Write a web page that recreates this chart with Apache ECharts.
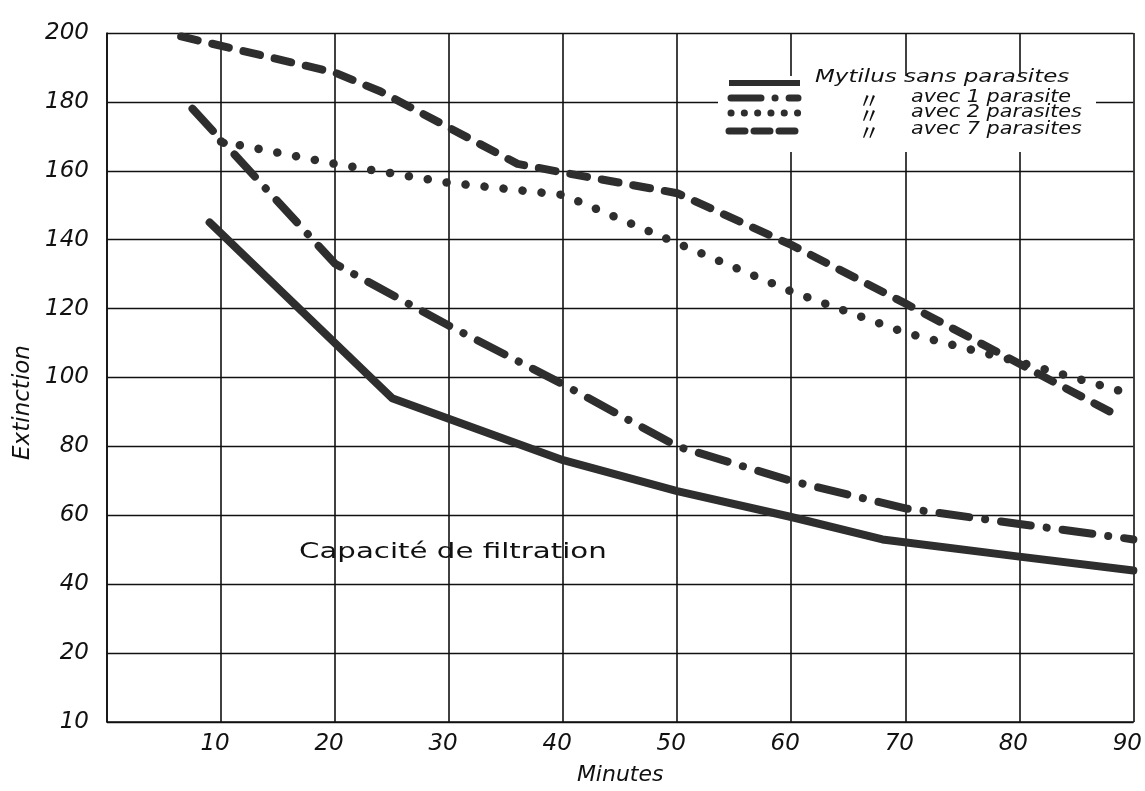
<!DOCTYPE html>
<html>
<head>
<meta charset="utf-8">
<script src="https://cdn.jsdelivr.net/npm/echarts@6/dist/echarts.min.js"></script>
<style>
html,body{margin:0;padding:0;background:#fff;}
#chart{width:1145px;height:791px;}
</style>
</head>
<body>
<div id="chart"></div>
<script>
// ---- data ----
const xTickLabels = ['', '10', '20', '30', '40', '50', '60', '70', '80', '90'];
const yTickLabels = ['10', '20', '40', '60', '80', '100', '120', '140', '160', '180', '200'];

const sansX = [9, 25, 40, 50, 60, 68, 80, 90];
const sansY = [145, 94, 76, 67, 59.5, 53, 48, 44];

const avec1X = [7.5, 20, 30, 40, 50, 60, 70, 80, 90];
const avec1Y = [178, 133, 115, 98, 80, 70, 62, 57.5, 53];

const avec2X = [10, 20, 30, 40, 50, 60, 70, 80, 90];
const avec2Y = [168.5, 162, 156.5, 153, 139, 125, 113, 104.5, 95];

const avec7X = [6.5, 20, 24, 36, 40, 50, 60, 70, 88];
const avec7Y = [199, 188.5, 183, 162, 159.5, 153.5, 138.5, 121.5, 90];

const seriesNames = ['Mytilus sans parasites', 'avec 1 parasite', 'avec 2 parasites', 'avec 7 parasites'];
const dittoMark = '\u3003';
const annotation = 'Capacité de filtration';
const xName = 'Minutes';
const yName = 'Extinction';

// ---- styles ----
const INK = '#2e2e2e';
const styles = [
  { width: 8, type: 'solid', cap: 'round' },
  { width: 8, type: [30, 16, 0.1, 16], cap: 'round' },
  { width: 8.5, type: [0.1, 19], cap: 'round' },
  { width: 8, type: [17, 15], cap: 'round' }
];

function pairs(xs, ys) { return xs.map((x, i) => [x, ys[i]]); }
const dataSets = [pairs(sansX, sansY), pairs(avec1X, avec1Y), pairs(avec2X, avec2Y), pairs(avec7X, avec7Y)];

const chart = echarts.init(document.getElementById('chart'), null, { renderer: 'canvas' });

const labelFont = { fontFamily: 'DejaVu Sans', fontStyle: 'italic', fontSize: 23, color: '#111' };

// legend drawn as graphic (layout of the original)
const legendRows = [83, 98, 113, 131];
const legendGraphic = [
  { type: 'rect', shape: { x: 718, y: 76, width: 378, height: 76 }, style: { fill: '#fff' }, z: 10 }
];
const legendDash = [null, [30, 14, 0.1, 14], [0.1, 13.2], [16, 9]];
legendRows.forEach((y, i) => {
  legendGraphic.push({
    type: 'line', z: 11,
    shape: { x1: i === 1 || i === 2 ? 731 : 729, y1: y, x2: i === 1 || i === 2 ? 798 : 800, y2: y },
    style: { stroke: INK, lineWidth: i === 0 ? 6 : 7, lineDash: legendDash[i], lineCap: i === 0 ? 'butt' : 'round' }
  });
});
legendGraphic.push({
  type: 'text', z: 11, x: 815, y: 78, scaleX: 1.35,
  style: { text: seriesNames[0], fontFamily: 'DejaVu Sans', fontStyle: 'italic', fontSize: 17, fill: '#111', verticalAlign: 'middle' }
});
[1, 2, 3].forEach(i => {
  const y = [0, 98, 113, 130][i];
  legendGraphic.push({
    type: 'text', z: 11, x: 858, y: y + 2,
    style: { text: dittoMark, fontFamily: 'Noto Sans CJK JP', fontSize: 22, fill: '#111', verticalAlign: 'middle' }
  });
  legendGraphic.push({
    type: 'text', z: 11, x: 911, y: y, scaleX: 1.22,
    style: { text: seriesNames[i], fontFamily: 'DejaVu Sans', fontStyle: 'italic', fontSize: 17, fill: '#111', verticalAlign: 'middle' }
  });
});

const option = {
  backgroundColor: '#fff',
  animation: false,
  grid: { left: 107, right: 6, top: 33, bottom: 69 },
  xAxis: {
    type: 'value', min: 0, max: 90, interval: 10,
    name: xName, nameLocation: 'middle', nameGap: 42,
    nameTextStyle: { fontFamily: 'DejaVu Sans', fontStyle: 'italic', fontSize: 22, color: '#111' },
    axisLine: { lineStyle: { color: '#111', width: 1.6 } },
    axisTick: { show: false },
    splitLine: { show: true, lineStyle: { color: '#111', width: 1.6 } },
    axisLabel: Object.assign({ margin: 11, padding: [0, 12, 0, 0], formatter: v => xTickLabels[Math.round(v / 10)] }, labelFont)
  },
  yAxis: {
    type: 'value', min: 0, max: 200, interval: 20,
    name: yName, nameLocation: 'middle', nameGap: 72, nameRotate: 90,
    nameTextStyle: { fontFamily: 'DejaVu Sans', fontStyle: 'italic', fontSize: 23, color: '#111', padding: [0, 50, 0, 0] },
    axisLine: { show: true, lineStyle: { color: '#111', width: 1.6 } },
    axisTick: { show: false },
    splitLine: { show: true, lineStyle: { color: '#111', width: 1.4 } },
    axisLabel: Object.assign({ margin: 18, padding: [0, 0, 16, 0], formatter: v => yTickLabels[Math.round(v / 20)] }, labelFont)
  },
  series: dataSets.map((d, i) => ({
    type: 'line',
    name: seriesNames[i],
    data: d,
    showSymbol: false,
    symbol: 'none',
    z: 5,
    lineStyle: { color: INK, width: styles[i].width, type: styles[i].type, cap: styles[i].cap, join: 'round' }
  })),
  graphic: legendGraphic.concat([
    {
      type: 'text', x: 299, y: 552, z: 11, scaleX: 1.33,
      style: { text: annotation, fontFamily: 'DejaVu Sans', fontSize: 22, fill: '#111', verticalAlign: 'middle' }
    }
  ])
};

chart.setOption(option);
</script>
</body>
</html>
